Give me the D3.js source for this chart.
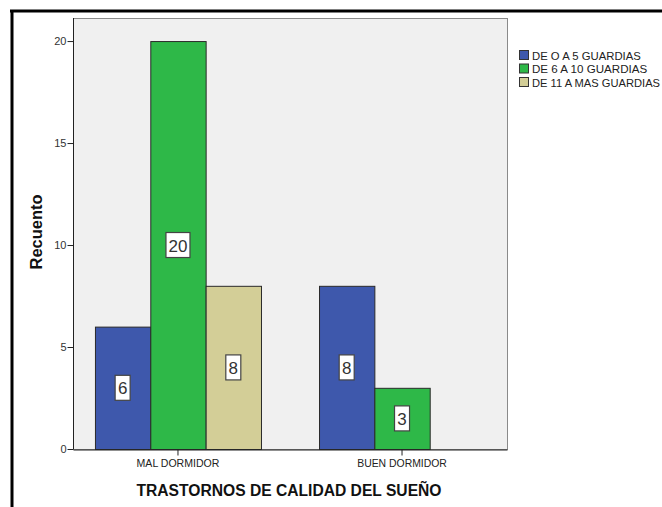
<!DOCTYPE html>
<html>
<head>
<meta charset="utf-8">
<script src="https://cdn.jsdelivr.net/npm/d3@7"></script>
<style>
  html, body { margin: 0; padding: 0; background: #fff; }
  svg { display: block; font-family: "Liberation Sans", Arial, sans-serif; }
</style>
</head>
<body>
<svg id="chart" width="662" height="507"></svg>
<script>
// Sleep quality groups and number of shifts (guardias)
const categories = ["MAL DORMIDOR", "BUEN DORMIDOR"];
const seriesNames = ["DE O A 5 GUARDIAS", "DE 6 A 10 GUARDIAS", "DE 11 A MAS GUARDIAS"];
const seriesColors = ["#3E58AC", "#2EB848", "#D3CE97"];
// counts per category, in series order (null = no bar)
const valuesLow = [6, 8];
const valuesMid = [20, 3];
const valuesHigh = [8, null];
const yTicks = [0, 5, 10, 15, 20];

const seriesValues = [valuesLow, valuesMid, valuesHigh];
const rows = [];
categories.forEach((c, ci) => {
  seriesNames.forEach((s, si) => {
    const v = seriesValues[si][ci];
    if (v != null) rows.push({ cat: c, series: s, si, value: v });
  });
});

const svg = d3.select("#chart");
const plot = { left: 73, right: 507, top: 18, bottom: 449 };

// outer frame (top and left edges visible)
svg.append("line").attr("x1", 10).attr("x2", 662).attr("y1", 11).attr("y2", 11)
  .attr("stroke", "#000").attr("stroke-width", 3);
svg.append("line").attr("x1", 12).attr("x2", 12).attr("y1", 10).attr("y2", 507)
  .attr("stroke", "#000").attr("stroke-width", 3);

const y = d3.scaleLinear().domain([0, 21.13]).range([plot.bottom, plot.top]);
const x0 = d3.scaleBand().domain(categories).range([plot.left, plot.right])
  .paddingInner(0.259).paddingOuter(0.098);
const x1 = d3.scaleBand().domain(seriesNames).range([0, x0.bandwidth()]).padding(0);
const color = d3.scaleOrdinal().domain(seriesNames).range(seriesColors);

// plot background
svg.append("rect")
  .attr("x", plot.left + 0.5).attr("y", plot.top + 0.5)
  .attr("width", plot.right - plot.left).attr("height", plot.bottom - plot.top)
  .attr("fill", "#F0F0F0").attr("stroke", "#8a8a8a").attr("stroke-width", 1);

// bars
svg.append("g").selectAll("rect").data(rows).join("rect")
  .attr("x", d => x0(d.cat) + x1(d.series) + 0.5)
  .attr("y", d => y(d.value) + 0.5)
  .attr("width", x1.bandwidth())
  .attr("height", d => y(0) - y(d.value))
  .attr("fill", d => color(d.series))
  .attr("stroke", "#2a2a2a").attr("stroke-width", 1);

// value labels in white boxes
const lab = svg.append("g").selectAll("g").data(rows).join("g")
  .attr("transform", d => `translate(${x0(d.cat) + x1(d.series) + x1.bandwidth() / 2},${y(d.value / 2)})`);
lab.each(function(d) {
  const g = d3.select(this);
  const txt = String(d.value);
  const w = txt.length * 9 + 6;
  g.append("rect").attr("x", -w / 2).attr("y", -12.5).attr("width", w).attr("height", 25)
    .attr("fill", "#fff").attr("stroke", "#444").attr("stroke-width", 1.2);
  g.append("text").attr("text-anchor", "middle").attr("y", 6.5)
    .attr("font-size", 17).attr("fill", "#333").text(txt);
});

// y axis
const yAxis = svg.append("g").attr("transform", `translate(${plot.left + 0.5},0)`)
  .call(d3.axisLeft(y).tickValues(yTicks).tickSize(6).tickPadding(1).tickSizeOuter(0));
yAxis.select(".domain").attr("stroke", "#222");
yAxis.selectAll("line").attr("stroke", "#222");
yAxis.selectAll("text").attr("font-size", 11).attr("fill", "#333")
  .attr("font-family", "Liberation Sans, Arial, sans-serif");
yAxis.select(".domain").attr("d", `M0,${plot.top}V${plot.bottom}`);

// x axis
const xAxis = svg.append("g").attr("transform", `translate(0,${plot.bottom + 0.5})`)
  .call(d3.axisBottom(x0).tickSize(6).tickPadding(4).tickSizeOuter(0));
xAxis.select(".domain").attr("stroke", "#222");
xAxis.selectAll("line").attr("stroke", "#222");
xAxis.selectAll("text").attr("font-size", 11).attr("fill", "#222")
  .attr("font-family", "Liberation Sans, Arial, sans-serif")
  .attr("textLength", d => d.length * 6.9).attr("lengthAdjust", "spacingAndGlyphs");

// axis titles
svg.append("text").attr("x", 289).attr("y", 496)
  .attr("text-anchor", "middle").attr("font-size", 16).attr("font-weight", "bold")
  .attr("textLength", 305).attr("lengthAdjust", "spacingAndGlyphs")
  .attr("fill", "#111").text("TRASTORNOS DE CALIDAD DEL SUEÑO");
svg.append("text").attr("transform", "translate(42,232) rotate(-90)")
  .attr("text-anchor", "middle").attr("font-size", 16).attr("font-weight", "bold")
  .attr("textLength", 75).attr("lengthAdjust", "spacingAndGlyphs")
  .attr("fill", "#111").text("Recuento");

// legend
const leg = svg.append("g").selectAll("g").data(seriesNames).join("g")
  .attr("transform", (d, i) => `translate(519,${50 + i * 13.5})`);
leg.append("rect").attr("x", 0.5).attr("y", 0.5).attr("width", 9).attr("height", 9)
  .attr("fill", d => color(d)).attr("stroke", "#333").attr("stroke-width", 1);
leg.append("text").attr("x", 13).attr("y", 9.5).attr("font-size", 11).attr("fill", "#222")
  .attr("textLength", d => d.length * 6.4).attr("lengthAdjust", "spacingAndGlyphs")
  .text(d => d);
</script>
</body>
</html>
